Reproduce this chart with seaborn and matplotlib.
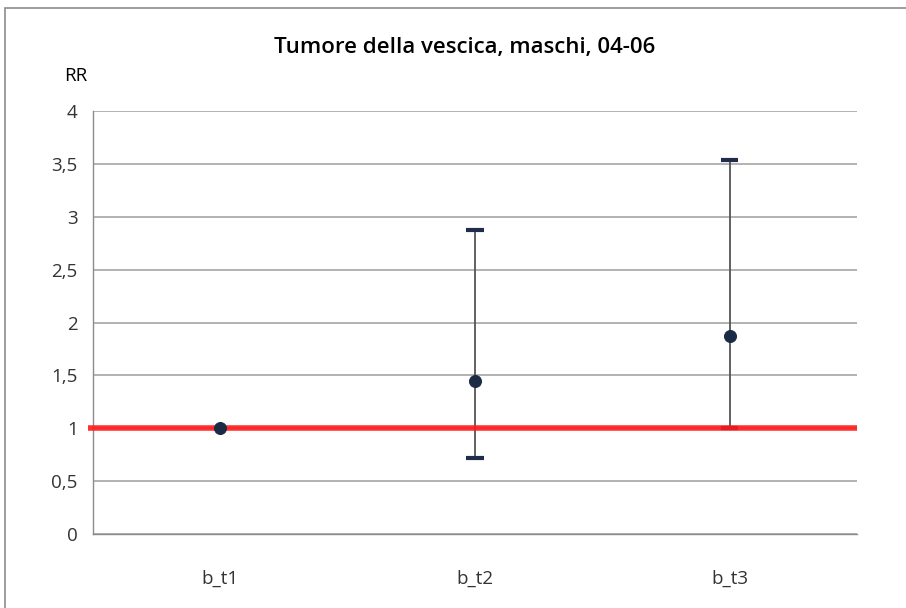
import matplotlib
matplotlib.use("Agg")
import matplotlib.pyplot as plt
import seaborn as sns
import pandas as pd
from matplotlib.patches import Rectangle

categories = ["b_t1", "b_t2", "b_t3"]
rr = [1.0, 1.443, 1.877]
lower = [1.0, 0.72, 1.0]
upper = [1.0, 2.875, 3.537]
yticks = [0, 0.5, 1, 1.5, 2, 2.5, 3, 3.5, 4]
ytick_labels = ["0", "0,5", "1", "1,5", "2", "2,5", "3", "3,5", "4"]
reference = 1.0

sns.set_theme(style="white")
plt.rcParams['font.family'] = ['Open Sans', 'DejaVu Sans']

W, H = 906, 608
fig = plt.figure(figsize=(W / 100, H / 100), dpi=100)
ax = fig.add_axes([93 / W, 1 - 534 / H, (857 - 93) / W, (534 - 111) / H])

df = pd.DataFrame({"cat": categories, "rr": rr, "lo": lower, "hi": upper})
xpos = list(range(len(categories)))

ax.set_ylim(0, 4)
ax.set_xlim(-0.5, 2.5)
ax.set_yticks(yticks)
ax.set_yticklabels(ytick_labels)
ax.set_xticks(xpos)
ax.set_xticklabels(categories)
ax.yaxis.grid(True, color="#A6A6A6", linewidth=1.2)
ax.set_axisbelow(True)
for s in ["top", "right"]:
    ax.spines[s].set_visible(False)
for s in ["left", "bottom"]:
    ax.spines[s].set_color("#8C8C8C")
    ax.spines[s].set_linewidth(1.0)
ax.tick_params(axis="both", length=0, labelsize=13.5, colors="#333333")
ax.tick_params(axis="y", pad=11)
ax.tick_params(axis="x", pad=26)

# error bars: whiskers
for i in xpos:
    if upper[i] != lower[i]:
        ax.vlines(i, lower[i], upper[i], color="#555555", linewidth=1.3, zorder=3)
        ax.hlines([lower[i], upper[i]], i - 0.034, i + 0.034, color="#1F2D4A",
                  linewidth=3, zorder=3)

# reference line
ax.plot([-0.52, 2.5], [reference, reference], color="#FF1A1A", linewidth=4,
        alpha=0.9, zorder=4, clip_on=False, solid_capstyle="butt")

sns.scatterplot(data=df, x=xpos, y="rr", ax=ax, color="#1B2A45", s=75,
                edgecolor="#1B2A45", zorder=5, legend=False)
ax.set_xlabel("")
ax.set_ylabel("")
ax.set_xlim(-0.5, 2.5)

fig.text(465 / W, 1 - 47 / H, "Tumore della vescica, maschi, 04-06", ha="center",
         va="center", fontsize=16, fontweight="semibold", color="black")
fig.text(76 / W, 1 - 76 / H, "RR", ha="center", va="center", fontsize=13.5,
         color="black")

fig.patches.append(Rectangle((5 / W, -0.05), 1.2, 1 - 8 / H + 0.05,
                             transform=fig.transFigure, fill=False,
                             edgecolor="#8C8C8C", linewidth=1.2))

fig.savefig("out.png", dpi=100)
